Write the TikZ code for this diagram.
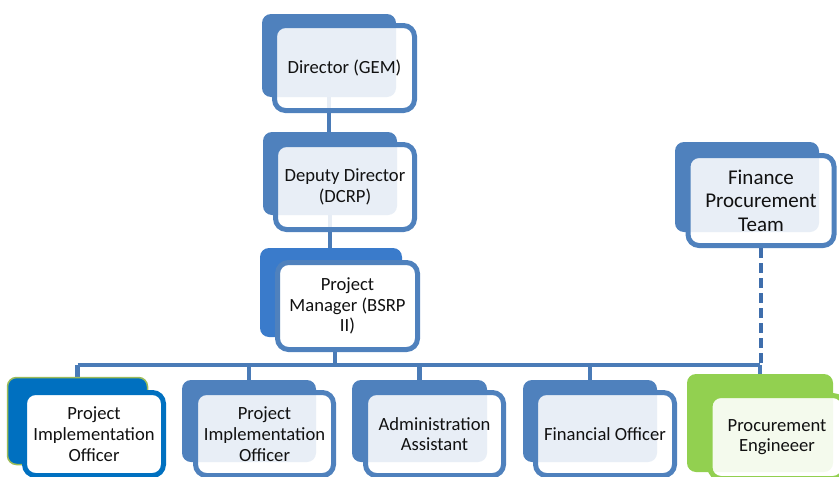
\documentclass[tikz,border=0pt]{standalone}
\usepackage{fontspec}
\setmainfont{Carlito}
\usetikzlibrary{backgrounds}
\definecolor{cBlue}{HTML}{4F81BD}
\definecolor{cLine}{HTML}{4A7BB7}
\definecolor{cDash}{HTML}{3F6EAC}
\definecolor{cDeep}{HTML}{0070C0}
\definecolor{cPM}{HTML}{3A7BCB}
\definecolor{cGreen}{HTML}{92D050}
\definecolor{cOlive}{HTML}{9BBB59}
\definecolor{cText}{HTML}{111111}
\tikzset{
  backbox/.style={fill=cBlue, draw=none, rounded corners=9pt, inner sep=0pt},
  frontbox/.style={draw=cBlue, line width=5pt, fill=white, fill opacity=0.87,
    text opacity=1, rounded corners=11pt, inner sep=0pt, align=center,
    text=cText, font=\fontsize{18.6}{20.7}\selectfont},
  conn/.style={draw=cLine, line width=4.5pt},
  dashconn/.style={draw=cDash, line width=4.5pt, dash pattern=on 10pt off 5pt},
}
\begin{document}
\begin{tikzpicture}[x=1pt,y=-1pt]
\useasboundingbox (0,0) rectangle (839,477);
% top chain
\node[backbox, minimum width=134pt, minimum height=83pt] (dirB) at (329,55.5) {};
\node[frontbox, minimum width=140pt, minimum height=85pt] (dir) at (344.5,68) {Director (GEM)};
\node[backbox, minimum width=134pt, minimum height=83pt] (depB) at (330,173.5) {};
\node[frontbox, minimum width=139pt, minimum height=85pt] (dep) at (345,187) {Deputy Director\\(DCRP)};
\node[backbox, fill=cPM, minimum width=142pt, minimum height=89pt] (pmB) at (331,292.5) {};
\node[frontbox, fill opacity=1, minimum width=140pt, minimum height=87pt] (pm) at (347.5,306) {Project\\Manager (BSRP\\II)};
% finance team
\node[backbox, minimum width=144pt, minimum height=90pt] (finB) at (747,187) {};
\node[frontbox, minimum width=146pt, minimum height=90pt, font=\fontsize{21}{23.5}\selectfont] (fin) at (761,200.5) {Finance\\Procurement\\Team};
% bottom row
\node[backbox, fill=cDeep, draw=cOlive, line width=1.5pt, minimum width=140pt, minimum height=87pt] (pioAB) at (77.5,421) {};
\node[frontbox, draw=cDeep, fill opacity=1, minimum width=139pt, minimum height=83pt] (pioA) at (94,434) {Project\\Implementation\\Officer};
\node[backbox, minimum width=134pt, minimum height=82pt] (pioBB) at (249,421) {};
\node[frontbox, minimum width=138pt, minimum height=83pt] (pioB) at (264.5,434) {Project\\Implementation\\Officer};
\node[backbox, minimum width=135pt, minimum height=82pt] (admB) at (419.5,421) {};
\node[frontbox, minimum width=138pt, minimum height=83pt] (adm) at (434.5,434) {Administration\\Assistant};
\node[backbox, minimum width=134pt, minimum height=82pt] (fofB) at (590,421) {};
\node[frontbox, minimum width=139pt, minimum height=83pt] (fof) at (605,434) {Financial Officer};
\node[backbox, fill=cGreen, minimum width=146pt, minimum height=98pt] (peB) at (760,423) {};
\node[frontbox, draw=cGreen, fill opacity=0.9, minimum width=134pt, minimum height=83pt] (pe) at (777,437) {Procurement\\Engineeer};
\coordinate (hub) at (335,365);
\begin{pgfonlayer}{background}
\draw[conn] (dirB.south) -- (dirB.south |- depB.north);
\draw[conn] (depB.south) -- (depB.south |- pmB.north);
\draw[conn] (hub |- pmB.south) -- (hub);
\draw[conn] (pioAB.north |- hub) -- (peB.north |- hub);
\draw[conn] (pioAB.north) -- (pioAB.north |- hub);
\draw[conn] (pioBB.north) -- (pioBB.north |- hub);
\draw[conn] (admB.north) -- (admB.north |- hub);
\draw[conn] (fofB.north) -- (fofB.north |- hub);
\draw[conn] (peB.north) -- (peB.north |- hub);
\draw[dashconn] (fin.south) -- (fin.south |- hub);
\end{pgfonlayer}
\end{tikzpicture}
\end{document}
